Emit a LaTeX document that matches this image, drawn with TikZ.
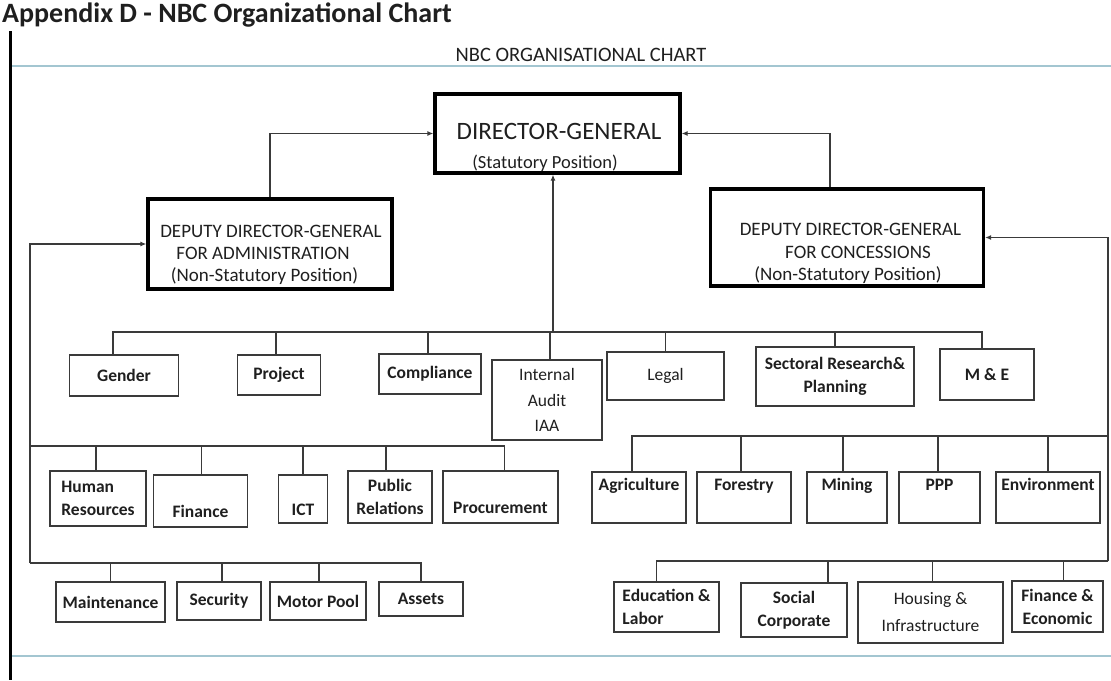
\documentclass[tikz,border=0pt]{standalone}
\usepackage{fontspec}
\setmainfont{Carlito}
\usetikzlibrary{arrows.meta}

\definecolor{linegray}{HTML}{3A3A3A}
\definecolor{ruleblue}{HTML}{A3C6D1}
\definecolor{ink}{HTML}{1F1F1F}

\newcommand\unitfont{\fontsize{17.5}{23}\selectfont}
\newcommand\chieffont{\fontsize{19}{23}\selectfont}

\begin{document}
\begin{tikzpicture}[x=1pt, y=-1pt,
  link/.style={draw=linegray, line width=1.3pt},
  arr/.style={link, -{Latex[length=6pt,width=5pt]}},
  wh/.style 2 args={minimum width=#1pt, minimum height=#2pt},
  chief/.style={draw=black, line width=3.2pt, inner sep=0pt},
  unitbox/.style={draw=linegray, line width=1.5pt, inner sep=0pt, align=center, text=ink, font=\unitfont},
  unitbold/.style={unitbox, font=\unitfont\bfseries},
  boxtext/.style={inner sep=0pt, anchor=base, text=ink}]
\useasboundingbox (0,0) rectangle (1111,680);
\draw[line width=3pt] (10,31) -- (10,680);
\draw[ruleblue, line width=1.2pt] (12,66) -- (1111,66);
\draw[ruleblue, line width=1.2pt] (12,656) -- (1111,656);
\node[boxtext, anchor=base west, font=\fontsize{28}{32}\selectfont\bfseries] (appendix) at (2,23) {Appendix D - NBC Organizational Chart};
\node[boxtext, font=\fontsize{20.5}{24}\selectfont] (charttitle) at (581,61) {NBC ORGANISATIONAL CHART};

\node[chief, wh={245}{79}] (dg) at (557.5,133.5) {};
\node[boxtext, font=\fontsize{25}{28}\selectfont] (dgname) at (559,139) {DIRECTOR-GENERAL};
\node[boxtext, font=\fontsize{18.5}{22}\selectfont] (dgnote) at (545,168) {(Statutory Position)};

\node[chief, wh={244}{90}] (ddga) at (270,244) {};
\node[boxtext, font=\chieffont] (ddganame) at (271,237) {DEPUTY DIRECTOR-GENERAL};
\node[boxtext, font=\chieffont] (ddgarole) at (263,259) {FOR ADMINISTRATION};
\node[boxtext, font=\chieffont] (ddganote) at (264.5,281) {(Non-Statutory Position)};

\node[chief, wh={273}{97}] (ddgc) at (847,237.5) {};
\node[boxtext, font=\chieffont] (ddgcname) at (850.5,235) {DEPUTY DIRECTOR-GENERAL};
\node[boxtext, font=\chieffont] (ddgcrole) at (858,258) {FOR CONCESSIONS};
\node[boxtext, font=\chieffont] (ddgcnote) at (848,280) {(Non-Statutory Position)};

\node[unitbold, wh={109}{41}] (gender) at (124,375.5) {Gender};
\node[unitbold, wh={83}{40}] (project) at (279,375) {Project};
\node[unitbold, wh={102}{40}] (compliance) at (430,374) {Compliance};
\node[unitbox, wh={110}{80}] (iaa) at (547,400) {Internal\\[2.5pt]Audit\\[2.5pt]IAA};
\node[unitbox, wh={117}{48}] (legal) at (665.5,376) {Legal};
\node[unitbold, wh={158}{59}] (sectoral) at (835,376.5) {Sectoral Research\&\\Planning};
\node[unitbold, wh={94}{51}] (me) at (987,374.5) {M \& E};

\node[unitbold, wh={96}{55}, align=left] (hr) at (98,498.5) {Human\\Resources};
\node[unitbold, wh={94}{52}] (finance) at (200.5,501) {\strut\\\strut Finance};
\node[unitbold, wh={49}{48}] (ict) at (303,499) {\strut\\\strut ICT};
\node[unitbold, wh={84}{52}] (pr) at (390,497) {Public\\Relations};
\node[unitbold, wh={115}{52}] (procurement) at (500.5,497) {\strut\\\strut Procurement};

\node[unitbold, wh={109}{40}] (maint) at (110.5,602) {Maintenance};
\node[unitbold, wh={84}{38}] (security) at (219,601) {Security};
\node[unitbold, wh={96}{38}] (motorpool) at (318,601) {Motor Pool};
\node[unitbold, wh={84}{34}] (assets) at (421,599) {Assets};

\node[unitbold, wh={94}{51}] (agri) at (639,497.5) {\strut Agriculture\\\strut};
\node[unitbold, wh={94}{51}] (forestry) at (744,497.5) {\strut Forestry\\\strut};
\node[unitbold, wh={80}{51}] (mining) at (847,497.5) {\strut Mining\\\strut};
\node[unitbold, wh={81}{51}] (ppp) at (939.5,497.5) {\strut PPP\\\strut};
\node[unitbold, wh={104}{51}] (env) at (1048,497.5) {\strut Environment\\\strut};

\node[unitbold, wh={105}{50}, align=left] (edu) at (666.5,607) {Education \&\\Labor};
\node[unitbold, wh={106}{54}] (social) at (794,610) {Social\\Corporate};
\node[unitbox, wh={145}{61}] (housing) at (930.5,612.5) {Housing \&\\[4pt]Infrastructure};
\node[unitbold, wh={91}{51}] (fineco) at (1057.5,606.5) {Finance \&\\Economic};

\draw[arr] (ddga.north) |- (dg.west);
\draw[arr] ([xshift=-17pt]ddgc.north) |- (dg.east);
\coordinate (dgfoot) at (553,332);
\draw[arr] (dgfoot) -- (dgfoot |- dg.south);
\foreach \u/\dx in {gender/-11,project/-3,compliance/-2,iaa/3,legal/0,sectoral/0,me/-5}
  \draw[link] (dgfoot) -| ([xshift=\dx pt]\u.north);

\coordinate (railw) at (30,563);
\coordinate (adminrow) at (30,446);
\draw[arr] (railw) |- (ddga.west);
\foreach \u/\dx in {hr/-2,finance/1,ict/0,pr/-4,procurement/4}
  \draw[link] (adminrow) -| ([xshift=\dx pt]\u.north);
\foreach \u/\dx in {maint/0,security/3,motorpool/1,assets/0}
  \draw[link] (railw) -| ([xshift=\dx pt]\u.north);

\coordinate (raile) at (1108,561);
\coordinate (concrow) at (1108,436);
\draw[arr] (raile) |- (ddgc.east);
\foreach \u/\dx in {agri/-7,forestry/-3,mining/-4,ppp/-1.5,env/0}
  \draw[link] (concrow) -| ([xshift=\dx pt]\u.north);
\foreach \u/\dx in {edu/-10,social/34,housing/2,fineco/6}
  \draw[link] (raile) -| ([xshift=\dx pt]\u.north);
\end{tikzpicture}
\end{document}
